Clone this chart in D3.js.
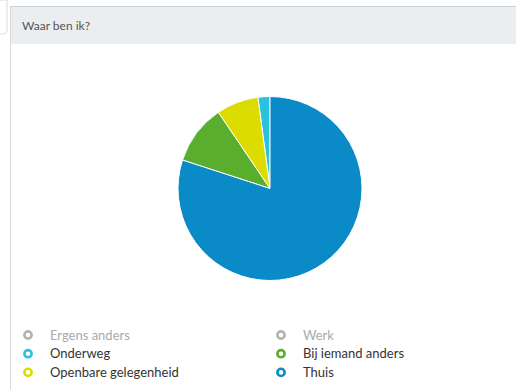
<!DOCTYPE html>
<html>
<head>
<meta charset="utf-8">
<script src="https://cdn.jsdelivr.net/npm/d3@7/dist/d3.min.js"></script>
<style>
  html, body { margin: 0; padding: 0; background: #fff; }
  svg { display: block; font-family: Lato, "Open Sans", sans-serif; }
</style>
</head>
<body>
<svg id="chart" width="516" height="390"></svg>
<script>
// Where respondents were ("Waar ben ik?") — counts per location
const title = "Waar ben ik?";
const categories = ["Ergens anders", "Werk", "Onderweg", "Bij iemand anders", "Openbare gelegenheid", "Thuis"];
const counts     = [0, 0, 2, 10, 7, 76];
const colors     = ["#b3b3b3", "#b3b3b3", "#2bc2df", "#5aae2e", "#dcdc00", "#0a8bc7"];
// order in which slices are laid out clockwise from 12 o'clock
const sliceOrder = ["Thuis", "Bij iemand anders", "Openbare gelegenheid", "Onderweg", "Ergens anders", "Werk"];

const svg = d3.select("#chart");

// card from behind, top-left corner
svg.append("path")
  .attr("d", "M0,0 L7,0 L7,30 Q7,34 3,34 L0,34")
  .attr("fill", "#fff").attr("stroke", "#dcdcdc").attr("stroke-width", 1);

// panel: left border and header band
svg.append("line")
  .attr("x1", 10.5).attr("x2", 10.5).attr("y1", 7).attr("y2", 390)
  .attr("stroke", "#d9d9d9");
svg.append("rect")
  .attr("x", 11).attr("y", 7).attr("width", 505).attr("height", 37)
  .attr("fill", "#ebeef0");
svg.append("line")
  .attr("x1", 10).attr("x2", 516).attr("y1", 6.5).attr("y2", 6.5)
  .attr("stroke", "#cdd1d3");
svg.append("text")
  .attr("x", 22).attr("y", 30)
  .attr("font-size", 12).attr("fill", "#555")
  .text(title);

// pie
const data = categories.map((c, i) => ({ name: c, value: counts[i], color: colors[i] }));
const pie = d3.pie()
  .value(d => d.value)
  .sort((a, b) => sliceOrder.indexOf(a.name) - sliceOrder.indexOf(b.name));
const arc = d3.arc().innerRadius(0).outerRadius(92);

svg.append("g")
  .attr("transform", "translate(270,188.5)")
  .selectAll("path")
  .data(pie(data).filter(d => d.data.value > 0))
  .join("path")
  .attr("d", arc)
  .attr("fill", d => d.data.color)
  .attr("stroke", "#fff")
  .attr("stroke-width", 1);

// legend, two columns filled row by row
const colX = d3.scaleOrdinal().domain([0, 1]).range([28, 281]);
const rowY = d3.scaleLinear().domain([0, 1]).range([335, 353.7]);

const item = svg.append("g").selectAll("g")
  .data(data)
  .join("g")
  .attr("transform", (d, i) => `translate(${colX(i % 2)},${rowY(Math.floor(i / 2))})`);

item.append("circle")
  .attr("r", 3.6)
  .attr("fill", "none")
  .attr("stroke", d => d.color)
  .attr("stroke-width", 2.6);

item.append("text")
  .attr("x", 22).attr("y", 4.5)
  .attr("font-size", 13)
  .attr("fill", d => d.value > 0 ? "#333" : "#aaa")
  .text(d => d.name);
</script>
</body>
</html>
